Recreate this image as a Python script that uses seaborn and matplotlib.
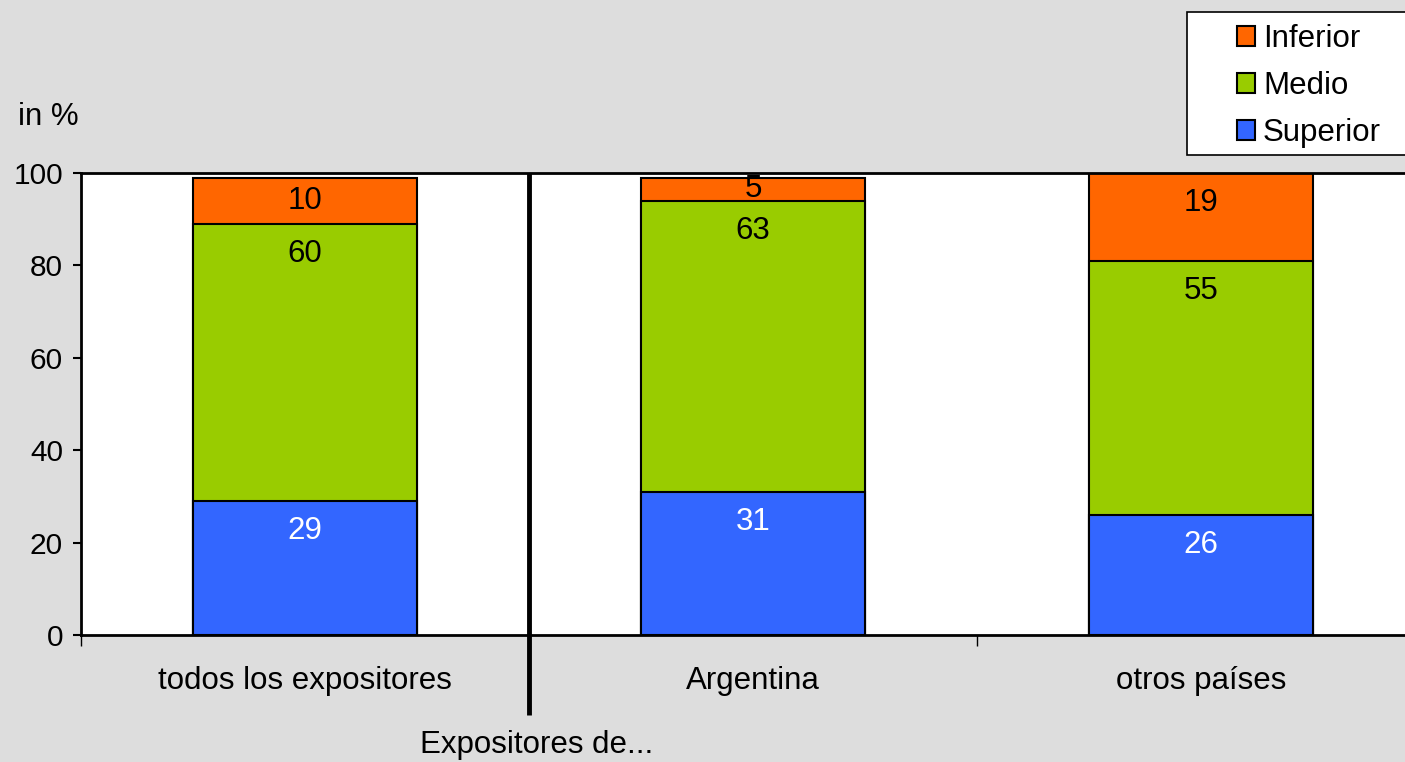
import pandas as pd
import matplotlib
matplotlib.use("Agg")
import matplotlib.pyplot as plt
from matplotlib.patches import Patch, Rectangle
import seaborn as sns

## data ----------------------------------------------------------------------
categories = ["todos los expositores", "Argentina", "otros países"]
superior   = [29, 31, 26]
medio      = [60, 63, 55]
inferior   = [10, 5, 19]
series     = ["Inferior", "Medio", "Superior"]
colors     = {"Inferior": "#FF6600", "Medio": "#99CC00", "Superior": "#3366FF"}
y_ticks    = [0, 20, 40, 60, 80, 100]

## style ---------------------------------------------------------------------
sns.set_theme(style="white")
plt.rcParams["font.family"] = ["Liberation Sans", "DejaVu Sans"]
plt.rcParams["text.color"] = "black"
plt.rcParams["xtick.color"] = "black"
plt.rcParams["ytick.color"] = "black"
bg = "#DDDDDD"
fs = 22.5

df = pd.DataFrame({"cat": categories, "Superior": superior,
                   "Medio": medio, "Inferior": inferior})
df["top_med"] = df["Superior"] + df["Medio"]
df["top_inf"] = df["top_med"] + df["Inferior"]

fig = plt.figure(figsize=(14.05, 7.62), dpi=100, facecolor=bg)
ax = fig.add_axes([81/1405, 127/762, 1344/1405, 462/762])
ax.set_facecolor("white")

# stacked bars: draw cumulative totals from the top down
for col, name in [("top_inf", "Inferior"), ("top_med", "Medio"), ("Superior", "Superior")]:
    sns.barplot(data=df, x="cat", y=col, color=colors[name], width=0.5,
                edgecolor="black", linewidth=1.5, saturation=1, ax=ax)

# value labels near the top of each segment
for i, row in df.iterrows():
    for lo, hi, val, tc in [(0, row["Superior"], row["Superior"], "white"),
                            (row["Superior"], row["top_med"], row["Medio"], "black"),
                            (row["top_med"], row["top_inf"], row["Inferior"], "black")]:
        off = min((hi - lo) / 2, 6.5)
        ax.text(i, hi - off, f"{val}", ha="center", va="center",
                fontsize=fs, color=tc)

ax.set_xlim(-0.5, 2.5)
ax.set_ylim(0, 100)
ax.set_yticks(y_ticks)
ax.set_xlabel("")
ax.set_ylabel("")
ax.tick_params(axis="y", labelsize=21.5, length=6, width=1.5, direction="out",
               left=True, pad=7, colors="black")
ax.set_xticks([0, 1, 2])
ax.set_xticklabels(categories)
ax.set_xticks([-0.5, 0.5, 1.5], minor=True)
ax.tick_params(axis="x", which="major", length=0, labelsize=fs, pad=22,
               labelcolor="black")
ax.tick_params(axis="x", which="minor", length=8, width=1, direction="out",
               bottom=True, color="black")
for s in ["left", "bottom", "top"]:
    ax.spines[s].set_color("black")
    ax.spines[s].set_linewidth(2)
ax.spines["right"].set_visible(False)

# separator between "todos" and the countries
ax.plot([0.5, 0.5], [1, -0.173], transform=ax.get_xaxis_transform(),
        color="black", lw=3.5, clip_on=False, solid_capstyle="butt")

fig.text(18/1405, 1 - 117/762, "in %", fontsize=fs, va="center", ha="left")
fig.text(537/1405, 1 - 745/762, "Expositores de...", fontsize=fs,
         va="center", ha="center")

# legend box runs off the right edge, as in the original
fig.add_artist(Rectangle((1187/1405, 1 - 155/762), 300/1405, 143/762,
                         transform=fig.transFigure, facecolor="white",
                         edgecolor="black", linewidth=1.2, zorder=1))
handles = [Patch(facecolor=colors[n], edgecolor="black", linewidth=1.5) for n in series]
leg = fig.legend(handles, series, loc="center left",
                 bbox_to_anchor=(1237/1405, 1 - 86/762), fontsize=fs,
                 frameon=False, handlelength=0.58, handleheight=0.58,
                 handletextpad=0.25, labelspacing=0.55, borderpad=0,
                 borderaxespad=0)
leg.set_zorder(5)

fig.savefig("out.png", dpi=100, facecolor=bg)
